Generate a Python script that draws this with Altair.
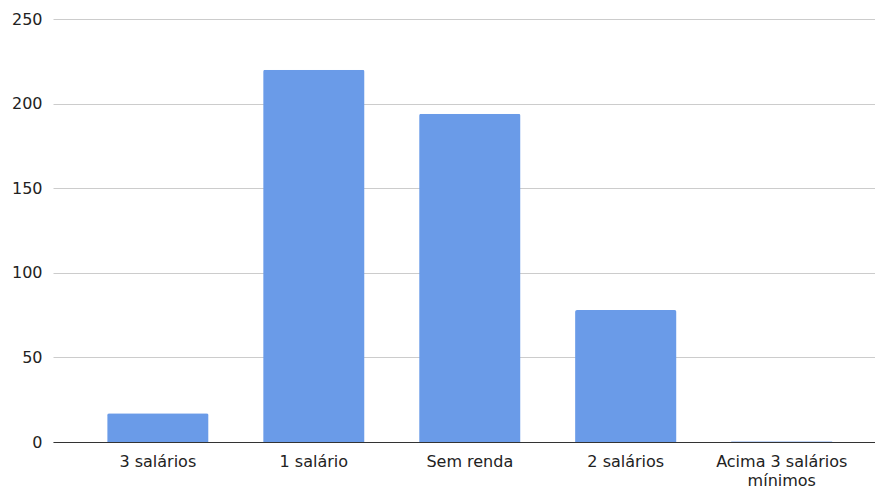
import altair as alt
import pandas as pd

categories = ["3 salários", "1 salário", "Sem renda", "2 salários", "Acima 3 salários mínimos"]
values = [17, 220, 194, 78, 0.5]
y_ticks = [0, 50, 100, 150, 200, 250]

df = pd.DataFrame({"categoria": categories, "valor": values})

FONT = "DejaVu Sans"

chart = (
    alt.Chart(df)
    .mark_bar(color="#6a9be8", cornerRadiusTopLeft=2, cornerRadiusTopRight=2)
    .encode(
        x=alt.X(
            "categoria:N",
            sort=categories,
            title=None,
            scale=alt.Scale(paddingInner=0.35, paddingOuter=0.31, align=0.56),
            axis=alt.Axis(
                labelAngle=0,
                labelFont=FONT,
                labelFontSize=16,
                labelColor="#222222",
                labelPadding=11,
                labelLineHeight=19,
                labelExpr="datum.label == 'Acima 3 salários mínimos' ? ['Acima 3 salários', 'mínimos'] : datum.label",
                ticks=False,
                domainColor="#333333",
                domainWidth=1.2,
                grid=False,
            ),
        ),
        y=alt.Y(
            "valor:Q",
            title=None,
            scale=alt.Scale(domain=[0, 250], nice=False),
            axis=alt.Axis(
                values=y_ticks,
                labelFont=FONT,
                labelFontSize=16,
                labelColor="#222222",
                labelPadding=11,
                ticks=False,
                domain=False,
                gridColor="#cccccc",
                gridWidth=1,
            ),
        ),
    )
    .properties(
        width=822,
        height=423,
        padding={"left": 3, "top": 3, "right": 0, "bottom": 0},
    )
    .configure_view(stroke=None)
)

chart.save("out.html", embed_options={"renderer": "svg", "actions": False})
